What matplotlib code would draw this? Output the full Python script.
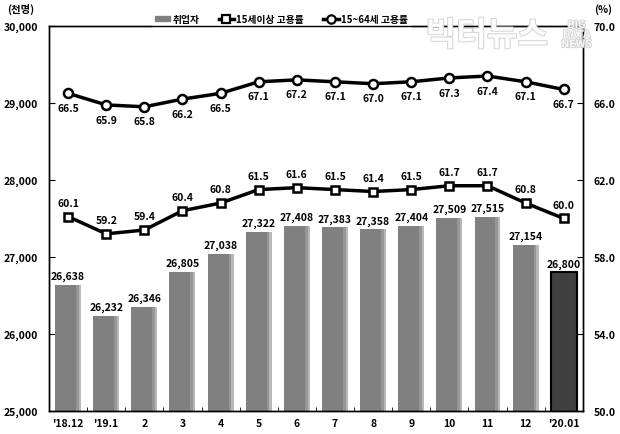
# employment chart: bars + two rate lines on twin axis

import numpy as np
import matplotlib.pyplot as plt
import matplotlib.patheffects as pe
from matplotlib.lines import Line2D
from matplotlib.patches import Patch

plt.rcParams['font.family'] = ['Noto Sans CJK KR', 'DejaVu Sans']
plt.rcParams['font.weight'] = 'bold'

months = ["'18.12", "'19.1", "2", "3", "4", "5", "6", "7", "8", "9", "10", "11", "12", "'20.01"]
employed = [26638, 26232, 26346, 26805, 27038, 27322, 27408, 27383, 27358, 27404, 27509, 27515, 27154, 26800]
rate_15plus = [60.1, 59.2, 59.4, 60.4, 60.8, 61.5, 61.6, 61.5, 61.4, 61.5, 61.7, 61.7, 60.8, 60.0]
rate_15_64 = [66.5, 65.9, 65.8, 66.2, 66.5, 67.1, 67.2, 67.1, 67.0, 67.1, 67.3, 67.4, 67.1, 66.7]

x = np.arange(len(months))
bw = 0.68

fig = plt.figure(figsize=(6.2, 4.35), dpi=100)
ax = fig.add_axes([0.079, 0.053, 0.861, 0.885])
ax2 = ax.twinx()

# bars: plain gray, last month dark; light strip on the right edge for the shaded look
n = len(x)
colors = ['#808080'] * (n - 1) + ['#404040']
ax.bar(x, employed, width=bw, color=colors, zorder=2)
ax.bar(x[:-1] + bw / 2 - 0.13, employed[:-1], width=0.07, align='edge', color='#969696', zorder=2)
ax.bar(x[:-1] + bw / 2 - 0.06, employed[:-1], width=0.06, align='edge', color='#b8b8b8', zorder=2)
ax.bar(x[-1:], employed[-1:], width=bw, fill=False, edgecolor='black', linewidth=1.5, zorder=3)
for xi, v in zip(x, employed):
    ax.text(xi, v + 50, f'{v:,}', ha='center', va='bottom', fontsize=7.5, fontweight='bold')

ax.set_xlim(-0.5, n - 0.5)
ax.set_ylim(25000, 30000)
ax.set_yticks(np.arange(25000, 30001, 1000))
ax.set_yticklabels([f'{v:,}' for v in range(25000, 30001, 1000)], fontsize=7.5)
ax.set_xticks(x)
ax.set_xticklabels(months, fontsize=7.5)
ax.set_xticks(np.arange(-0.5, n, 1), minor=True)
ax.tick_params(axis='x', which='major', length=0, pad=5)
ax.tick_params(axis='x', which='minor', length=3, direction='in')
ax.tick_params(axis='y', length=4, direction='in', pad=8)

ax2.plot(x, rate_15plus, color='black', lw=2.5, marker='s', ms=6,
         mfc='white', mec='black', mew=1.8, zorder=3)
ax2.plot(x, rate_15_64, color='black', lw=2.5, marker='o', ms=6.5,
         mfc='white', mec='black', mew=1.8, zorder=3)
for xi, v in zip(x, rate_15plus):
    ax2.text(xi, v + 0.45, f'{v:.1f}', ha='center', va='bottom', fontsize=7.5, fontweight='bold')
for xi, v in zip(x, rate_15_64):
    ax2.text(xi, v - 0.5, f'{v:.1f}', ha='center', va='top', fontsize=7.5, fontweight='bold')

ax2.set_ylim(50, 70)
ax2.set_yticks(np.arange(50, 70.1, 4))
ax2.set_yticklabels([f'{v:.1f}' for v in range(50, 71, 4)], fontsize=7.5)
ax2.tick_params(axis='y', length=4, direction='in', pad=8)

for a in (ax, ax2):
    for s in a.spines.values():
        s.set_linewidth(1)

fig.text(0.012, 0.978, '(천명)', fontsize=7.5, fontweight='bold', va='center')
fig.text(0.988, 0.978, '(%)', fontsize=7.5, fontweight='bold', va='center', ha='right')

handles = [
    Patch(facecolor='#808080', edgecolor='#808080'),
    Line2D([], [], color='black', lw=2.5, marker='s', ms=5.5, mfc='white', mec='black', mew=1.6),
    Line2D([], [], color='black', lw=2.5, marker='o', ms=6, mfc='white', mec='black', mew=1.6),
]
leg = ax.legend(handles, ['취업자', '15세이상 고용률', '15~64세 고용률'],
                loc='center', bbox_to_anchor=(0.435, 1.018), ncol=3, frameon=True,
                fontsize=7, handlelength=1.6, handleheight=0.5, handletextpad=0.2,
                columnspacing=2.0, borderpad=0.3)
leg.get_frame().set_edgecolor('white')
leg.get_frame().set_facecolor('white')
leg.get_frame().set_alpha(1)
leg.set_zorder(10)

# watermark
outline = [pe.withStroke(linewidth=1.2, foreground='#c8c8c8')]
fig.text(0.785, 0.915, '빅터뉴스', fontsize=24, color='white', ha='center', va='center',
         alpha=0.85, zorder=20, path_effects=outline)
fig.text(0.93, 0.918, 'BIG\nDATA\nNEWS', fontsize=7.5, color='white', ha='center', va='center',
         linespacing=0.95, alpha=0.85, zorder=20, path_effects=outline)

fig.savefig('out.png', dpi=100)
